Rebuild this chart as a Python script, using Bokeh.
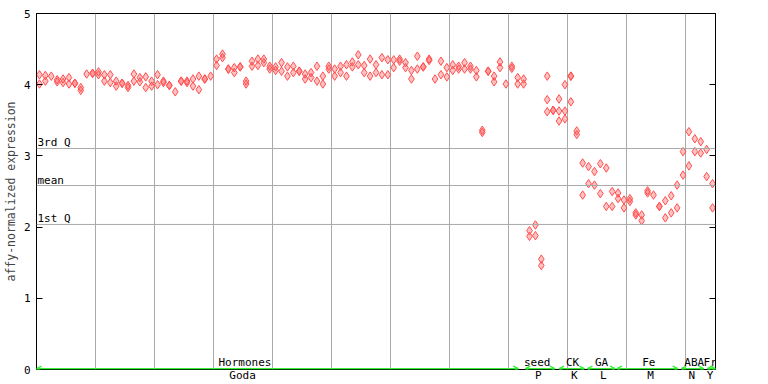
import numpy as np
from bokeh.plotting import figure
from bokeh.models import (ColumnDataSource, Span, FixedTicker, LinearAxis, Grid,
                          Arrow, OpenHead, LabelSet, Range1d)
from bokeh.core.properties import value
from bokeh.embed import file_html
from bokeh.resources import INLINE

# ---------------- data ----------------
replicates = [
    [4.14, 4.01], [4.13, 4.05], [4.12], [4.07, 4.04], [4.08, 4.03],
    [4.10, 4.01], [4.02, 4.02], [3.96, 3.92], [4.15], [4.16, 4.16],
    [4.18, 4.14], [4.14, 4.05], [4.14, 4.03], [4.05, 3.98], [4.02, 4.02],
    [3.99, 3.96], [4.15, 4.05], [4.10, 4.04], [4.11, 3.96], [4.05, 3.98],
    [4.14, 4.00], [4.05, 4.03], [3.99, 3.99], [3.90], [4.05, 4.05],
    [4.05, 4.03], [4.08, 3.98], [4.12, 3.93], [4.08, 4.08], [4.12],
    [4.36, 4.27], [4.43, 4.38], [4.22, 4.22], [4.24, 4.17], [4.25, 4.25],
    [4.05, 4.01], [4.33, 4.26], [4.36, 4.27], [4.36, 4.31], [4.26, 4.22],
    [4.25, 4.20], [4.31, 4.19], [4.25, 4.12], [4.26, 4.17], [4.19, 4.19],
    [4.15, 4.08], [4.17, 4.10], [4.26, 4.05], [4.12, 4.01], [4.26, 4.22],
    [4.22, 4.12], [4.26, 4.17], [4.28, 4.12], [4.32, 4.25], [4.42, 4.28],
    [4.27, 4.17], [4.36, 4.12], [4.28, 4.17], [4.38, 4.14], [4.35, 4.14],
    [4.35, 4.24], [4.36, 4.33], [4.31, 4.24], [4.20, 4.08], [4.40, 4.22],
    [4.25, 4.25], [4.36, 4.34], [4.08], [4.33, 4.14], [4.24, 4.11],
    [4.28, 4.20], [4.26, 4.22], [4.31, 4.22], [4.26, 4.22], [4.20, 4.11],
    [3.36, 3.33], [4.19, 4.19], [4.12, 4.04], [4.32, 4.24], [4.01],
    [4.26, 4.23], [4.10, 4.01], [4.08, 4.01], [1.95, 1.87], [2.03, 1.88],
    [1.55, 1.46], [4.12, 3.79, 3.62], [3.64, 3.64], [3.80, 3.63, 3.49], [4.00, 3.63, 3.52],
    [4.12, 4.12, 3.76], [3.35, 3.30], [2.90, 2.45], [2.85, 2.61], [2.78, 2.59],
    [2.89, 2.47], [2.83, 2.29], [2.50, 2.29], [2.48, 2.40], [2.38, 2.27],
    [2.40, 2.36], [2.20, 2.17], [2.17, 2.09], [2.51, 2.48], [2.45],
    [2.29, 2.29], [2.37, 2.13], [2.44, 2.20], [2.59, 2.27], [3.06, 2.73],
    [3.34, 2.86], [3.24, 3.06], [3.20, 3.04], [3.09, 2.71], [2.61, 2.27],
]

quartile_names = ["3rd Q", "mean", "1st Q"]
quartile_values = [3.104, 2.584, 2.037]

groups = ["Hormones", "seed", "CK", "GA", "Fe", "ABA", "Fr"]
group_start = [0.0, 82.8, 88.5, 93.3, 98.3, 109.2, 113.6]
group_end = [81.6, 87.8, 92.8, 98.0, 108.6, 113.0, 115.0]
group_label_x = [35.3, 84.8, 90.8, 95.7, 103.7, 111.4, 114.1]
sub_labels = ["Goda", "P", "K", "L", "M", "N", "Y"]
sub_label_x = [34.9, 85.0, 91.1, 96.0, 104.0, 111.0, 114.1]

y_ticks = [0, 1, 2, 3, 4, 5]
n_samples = len(replicates)

# ---------------- figure ----------------
FONT = "DejaVu Sans Mono"
RED = "#ff5050"
GREEN = "#33f033"
GRID = "#aaaaaa"

p = figure(width=768, height=384, output_backend="svg", toolbar_location=None,
           x_range=Range1d(0, n_samples), y_range=Range1d(0, 5),
           min_border_left=30, min_border_right=53, min_border_top=13, min_border_bottom=0)
p.background_fill_color = "white"
p.border_fill_color = "white"
p.outline_line_color = "black"
p.outline_line_width = 1
p.ygrid.visible = False
p.xgrid.visible = False

p.add_layout(Grid(dimension=0, ticker=FixedTicker(ticks=list(range(10, n_samples, 10))),
                  grid_line_color=GRID, grid_line_width=1))

for qv in quartile_values:
    p.add_layout(Span(location=qv, dimension="width", line_color=GRID, line_width=1))

# bottom axis carries the sub-labels
xa = p.xaxis[0]
xa.ticker = FixedTicker(ticks=sub_label_x)
xa.major_label_overrides = {float(x): t for x, t in zip(sub_label_x, sub_labels)}
xa.axis_line_color = None
xa.major_tick_line_color = None
xa.minor_tick_line_color = None
xa.major_tick_in = 0
xa.major_tick_out = 0
xa.major_label_standoff = -1
xa.major_label_text_font = FONT
xa.major_label_text_font_size = "11px"
xa.major_label_text_color = "black"

ya = p.yaxis[0]
ya.ticker = FixedTicker(ticks=y_ticks)
ya.major_tick_in = 6
ya.major_tick_out = 0
ya.minor_tick_in = 0
ya.minor_tick_out = 0
ya.major_label_standoff = 6
ya.major_label_text_font = FONT
ya.major_label_text_font_size = "11px"
ya.major_label_text_color = "black"
ya.axis_label = "affy-normalized expression"
ya.axis_label_text_font = FONT
ya.axis_label_text_font_size = "11.5px"
ya.axis_label_text_font_style = "normal"
ya.axis_label_standoff = 3
ya.axis_line_color = "black"
ya.major_tick_line_color = "black"

ra = LinearAxis(ticker=FixedTicker(ticks=y_ticks), major_tick_in=6, major_tick_out=0,
                minor_tick_in=0, minor_tick_out=0,
                major_label_overrides={t: "" for t in y_ticks},
                major_label_standoff=0, axis_line_color="black", major_tick_line_color="black")
p.add_layout(ra, "right")

# quartile labels
p.text(x=[0.15] * len(quartile_values), y=quartile_values, text=quartile_names,
       text_font=value(FONT), text_font_size="11px", text_baseline="bottom",
       text_color="black", y_offset=1)

# points
xs, ys = [], []
for i, reps in enumerate(replicates):
    for v in reps:
        xs.append(i + 0.5)
        ys.append(v)
src = ColumnDataSource(dict(x=xs, y=ys))
p.scatter("x", "y", source=src, marker="diamond", size=8.5,
          line_color=RED, line_width=1, fill_color=RED, fill_alpha=0.35)

# group arrows along the baseline
for s, e in zip(group_start, group_end):
    p.add_layout(Arrow(x_start=s, y_start=0.012, x_end=e, y_end=0.012,
                       start=OpenHead(size=5, line_color=GREEN, line_width=1.5),
                       end=OpenHead(size=5, line_color=GREEN, line_width=1.5),
                       line_color=GREEN, line_width=1.5))

gsrc = ColumnDataSource(dict(x=group_label_x, y=[0.095] * len(groups), t=groups))
p.add_layout(LabelSet(x="x", y="y", text="t", source=gsrc, text_align="center",
                      text_baseline="middle", text_font=value(FONT), text_font_size="11px",
                      text_color="black"))

open("out.html", "w").write(file_html(p, INLINE))
